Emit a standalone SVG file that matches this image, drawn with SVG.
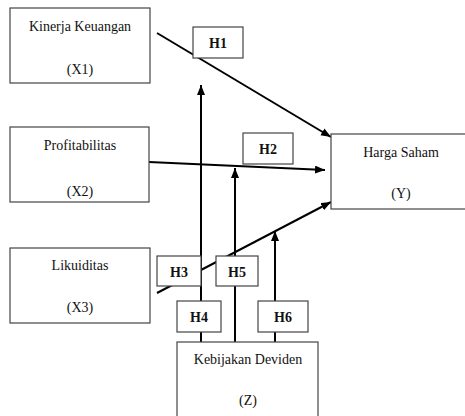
<svg xmlns="http://www.w3.org/2000/svg" width="465" height="416" viewBox="0 0 465 416">
<style>
.box{fill:#fff;stroke:#444;stroke-width:1.2}
text{font-family:'Liberation Serif','DejaVu Serif',Times,serif;font-size:14px;fill:#111;text-anchor:middle}
.h{font-weight:bold}
.ln{stroke:#000;stroke-width:2;fill:none}
</style>
<defs>
<marker id="arr" markerUnits="userSpaceOnUse" markerWidth="11" markerHeight="9" refX="10" refY="4" orient="auto">
<path d="M0,0 L10,4 L0,8 z" fill="#000"/>
</marker>
</defs>
<g id="connectors">
<line class="ln" x1="157" y1="33" x2="331" y2="137" marker-end="url(#arr)"/>
<line class="ln" x1="149" y1="162" x2="325" y2="170" marker-end="url(#arr)"/>
<line class="ln" x1="157" y1="293" x2="331" y2="202" marker-end="url(#arr)"/>
<line class="ln" x1="201" y1="342" x2="201" y2="85" marker-end="url(#arr)"/>
<line class="ln" x1="235" y1="342" x2="235" y2="168" marker-end="url(#arr)"/>
<line class="ln" x1="275" y1="342" x2="275" y2="231" marker-end="url(#arr)"/>
</g>
<g id="x1">
<rect class="box" x="10" y="8" width="140" height="75"/>
<text x="80" y="31" font-family="Liberation Serif, serif">Kinerja Keuangan</text>
<text x="80" y="74" font-family="Liberation Serif, serif">(X1)</text>
</g>
<g id="x2">
<rect class="box" x="10" y="127" width="139" height="75"/>
<text x="80" y="150" font-family="Liberation Serif, serif">Profitabilitas</text>
<text x="80" y="196" font-family="Liberation Serif, serif">(X2)</text>
</g>
<g id="x3">
<rect class="box" x="10" y="248" width="140" height="75"/>
<text x="80" y="270" font-family="Liberation Serif, serif">Likuiditas</text>
<text x="80" y="312" font-family="Liberation Serif, serif">(X3)</text>
</g>
<g id="y">
<rect class="box" x="331" y="134" width="140" height="75"/>
<text x="401" y="157" font-family="Liberation Serif, serif">Harga Saham</text>
<text x="401" y="198" font-family="Liberation Serif, serif">(Y)</text>
</g>
<g id="z">
<rect class="box" x="177" y="342" width="141" height="80"/>
<text x="248" y="364" font-family="Liberation Serif, serif">Kebijakan Deviden</text>
<text x="248" y="405" font-family="Liberation Serif, serif">(Z)</text>
</g>
<g id="h1"><rect class="box" x="193" y="27" width="50" height="31"/><text class="h" x="218" y="48" font-family="Liberation Serif, serif">H1</text></g>
<g id="h2"><rect class="box" x="243" y="133" width="50" height="31"/><text class="h" x="268" y="154" font-family="Liberation Serif, serif">H2</text></g>
<g id="h3"><rect class="box" x="157" y="256" width="44" height="30"/><text class="h" x="179" y="277" font-family="Liberation Serif, serif">H3</text></g>
<g id="h4"><rect class="box" x="177" y="301" width="44" height="31"/><text class="h" x="199" y="322" font-family="Liberation Serif, serif">H4</text></g>
<g id="h5"><rect class="box" x="216" y="256" width="42" height="30"/><text class="h" x="237" y="277" font-family="Liberation Serif, serif">H5</text></g>
<g id="h6"><rect class="box" x="258" y="301" width="50" height="31"/><text class="h" x="283" y="322" font-family="Liberation Serif, serif">H6</text></g>
</svg>
